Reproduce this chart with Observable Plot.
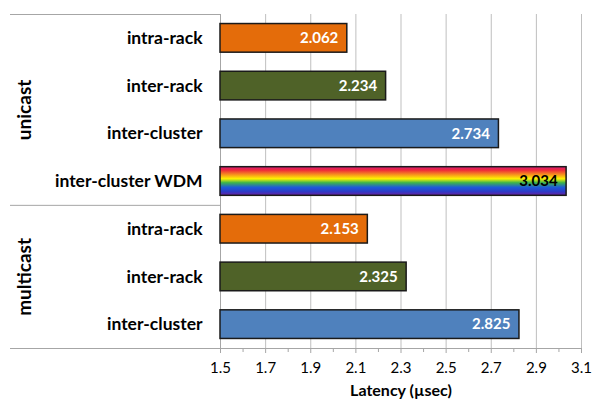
<!DOCTYPE html>
<html>
<head>
<meta charset="utf-8">
<script src="https://cdn.jsdelivr.net/npm/d3@7"></script>
<script src="https://cdn.jsdelivr.net/npm/@observablehq/plot@0.6"></script>
<style>
  html, body { margin: 0; padding: 0; background: #fff; }
</style>
</head>
<body>
<div id="chart"></div>
<script>
// ---- data ----
const groups = ["unicast", "unicast", "unicast", "unicast", "multicast", "multicast", "multicast"];
const categories = ["intra-rack", "inter-rack", "inter-cluster", "inter-cluster WDM", "intra-rack", "inter-rack", "inter-cluster"];
const latency = [2.062, 2.234, 2.734, 3.034, 2.153, 2.325, 2.825];
const groupLabels = ["unicast", "multicast"];
const xTicks = [1.5, 1.7, 1.9, 2.1, 2.3, 2.5, 2.7, 2.9, 3.1];
const xMinorTicks = [1.6, 1.8, 2.0, 2.2, 2.4, 2.6, 2.8, 3.0];
const colorOf = {
  "intra-rack": "#E46C0A",
  "inter-rack": "#4F6228",
  "inter-cluster": "#4F81BD",
  "inter-cluster WDM": "url(#rainbow)"
};

const rows = categories.map((c, i) => ({i, group: groups[i], category: c, value: latency[i]}));
const groupRows = groupLabels.map(g => {
  const idx = rows.filter(r => r.group === g).map(r => r.i);
  return {group: g, y: d3.mean([d3.min(idx), d3.max(idx)])};
});
const boundaries = [-0.5, ...groupLabels.slice(1).map(g => rows.find(r => r.group === g).i - 0.5), rows.length - 0.5];

const xMin = xTicks[0], xMax = xTicks[xTicks.length - 1];
const W = 592, H = 401, ML = 220, MR = 11, MT = 14, MB = 53;
const pxPerUnit = (W - ML - MR) / (xMax - xMin);
const leftEdge = xMin - (ML - 10) / pxPerUnit;
const half = 0.3;

const plot = Plot.plot({
  width: W,
  height: H,
  marginLeft: ML,
  marginRight: MR,
  marginTop: MT,
  marginBottom: MB,
  style: {fontFamily: "Lato, 'Open Sans', sans-serif", fontSize: "14px", color: "#000", background: "#fff"},
  x: {domain: [xMin, xMax]},
  y: {domain: [rows.length - 0.5, -0.5], axis: null},
  marks: [
    Plot.gridX(xTicks, {stroke: "#bfbfbf", strokeOpacity: 1}),
    Plot.ruleX([xMin], {stroke: "#a6a6a6"}),
    Plot.ruleY(boundaries, {x1: leftEdge, x2: xMin, stroke: "#a6a6a6"}),
    Plot.ruleY([rows.length - 0.5], {x1: xMin, x2: xMax, stroke: "#a6a6a6"}),
    Plot.axisX(xMinorTicks, {tickSize: 4, tickFormat: () => "", stroke: "#a6a6a6", label: null}),
    Plot.axisX(xTicks, {tickSize: 5, tickPadding: 9, tickFormat: d3.format(".1f"), stroke: "#a6a6a6", fill: "#000", fontSize: 15, label: null}),
    Plot.rectX(rows, {
      x1: xMin, x2: "value",
      y1: d => d.i - half, y2: d => d.i + half,
      fill: d => colorOf[d.category],
      stroke: "#1a1a1a", strokeWidth: 1.5
    }),
    Plot.text(rows, {
      x: "value", y: "i",
      text: d => d.value.toFixed(3),
      textAnchor: "end", dx: -9,
      fill: d => d.category === "inter-cluster WDM" ? "#000" : "#fff",
      fontWeight: "bold", fontSize: 15
    }),
    Plot.text(rows, {
      y: "i", text: "category", frameAnchor: "left",
      textAnchor: "end", dx: -18, fontWeight: "bold", fontSize: 17.5, fill: "#000"
    }),
    Plot.text(groupRows, {
      y: "y", text: "group", frameAnchor: "left", textAnchor: "middle", lineAnchor: "middle",
      dx: -(ML - 24), rotate: -90, fontWeight: "bold", fontSize: 19, fill: "#000"
    }),
    Plot.text(["Latency (µsec)"], {
      text: d => d, frameAnchor: "bottom", lineAnchor: "middle", dy: 42, fontWeight: "bold", fontSize: 16, fill: "#000"
    })
  ],
  color: {type: "identity"}
});

// rainbow gradient definition for the WDM bar
const svg = d3.select(plot.tagName.toLowerCase() === "svg" ? plot : plot.querySelector("svg"));
const grad = svg.insert("defs", ":first-child").append("linearGradient")
  .attr("id", "rainbow").attr("x1", 0).attr("y1", 0).attr("x2", 0).attr("y2", 1);
[
  [0, "#d81b7a"], [0.12, "#ee2a3a"], [0.28, "#f7941d"], [0.42, "#fff200"],
  [0.56, "#3cb44b"], [0.72, "#1e5ad8"], [0.86, "#2a3cc8"], [1, "#6a1fa0"]
].forEach(([o, c]) => grad.append("stop").attr("offset", o).attr("stop-color", c));

document.getElementById("chart").appendChild(plot);
</script>
</body>
</html>
